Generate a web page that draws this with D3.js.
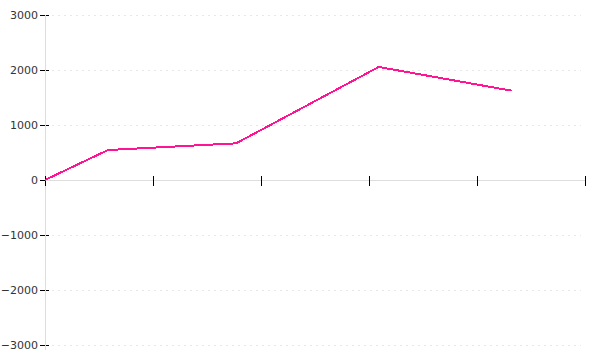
<!DOCTYPE html>
<html>
<head>
<meta charset="utf-8">
<script src="https://cdn.jsdelivr.net/npm/d3@7"></script>
<style>
    body { margin: 0; background: #fff; }
    svg text { font-family: "DejaVu Sans", sans-serif; font-size: 11px; fill: #333; }
</style>
</head>
<body>
<div id="chart"></div>
<script>
// Chart data
const xValues = [0, 0.583, 1.77, 3.09, 4.32];
const yValues = [0, 545, 667, 2055, 1624];
const xTicks = [0, 1, 2, 3, 4, 5];
const yTicks = [-3000, -2000, -1000, 0, 1000, 2000, 3000];

const width = 600;
const height = 360;
const margin = { top: 15, right: 15, bottom: 15, left: 45 };

const svg = d3.select('#chart')
    .append('svg')
    .attr('width', width)
    .attr('height', height);

const x = d3.scaleLinear()
    .domain([0, 5])
    .range([margin.left, width - margin.right]);

const y = d3.scaleLinear()
    .domain([-3000, 3000])
    .range([height - margin.bottom, margin.top]);

// Dashed grid lines (skip zero, the x axis sits there)
svg.append('g')
    .selectAll('line')
    .data(yTicks.filter(d => d !== 0))
    .join('line')
    .attr('x1', margin.left + 7)
    .attr('x2', width - margin.right - 4)
    .attr('y1', d => Math.round(y(d)) + 0.5)
    .attr('y2', d => Math.round(y(d)) + 0.5)
    .attr('stroke', '#e8e8e8')
    .attr('stroke-dasharray', '2,4')
    .attr('shape-rendering', 'crispEdges');

// Y axis labels
const yAxis = svg.append('g')
    .attr('transform', `translate(${margin.left},0)`)
    .call(d3.axisLeft(y).tickValues(yTicks).tickSize(0).tickPadding(7).tickFormat(d3.format('d')));
yAxis.select('.domain').remove();
yAxis.selectAll('.tick text').attr('fill', '#333');

// Y tick marks (black), crossing the grey axis line
svg.append('g')
    .selectAll('line')
    .data(yTicks)
    .join('line')
    .attr('x1', margin.left - 5)
    .attr('x2', margin.left + 4)
    .attr('y1', d => Math.round(y(d)) + 0.5)
    .attr('y2', d => Math.round(y(d)) + 0.5)
    .attr('stroke', '#000')
    .attr('shape-rendering', 'crispEdges');

svg.append('line')
    .attr('x1', margin.left + 0.5)
    .attr('x2', margin.left + 0.5)
    .attr('y1', margin.top)
    .attr('y2', height - 10)
    .attr('stroke', '#ddd')
    .attr('shape-rendering', 'crispEdges');

// X axis at zero: grey line, black ticks, no labels
svg.append('line')
    .attr('x1', margin.left)
    .attr('x2', width - margin.right)
    .attr('y1', y(0) + 0.5)
    .attr('y2', y(0) + 0.5)
    .attr('stroke', '#ddd')
    .attr('shape-rendering', 'crispEdges');

svg.append('g')
    .selectAll('line')
    .data(xTicks)
    .join('line')
    .attr('x1', d => Math.round(x(d)) + 0.5)
    .attr('x2', d => Math.round(x(d)) + 0.5)
    .attr('y1', y(0) - 4)
    .attr('y2', y(0) + 6)
    .attr('stroke', '#000')
    .attr('shape-rendering', 'crispEdges');

// Series line
const line = d3.line()
    .x((d, i) => x(xValues[i]))
    .y(d => y(d));

svg.append('path')
    .datum(yValues)
    .attr('d', line)
    .attr('fill', 'none')
    .attr('stroke', '#ff1493')
    .attr('stroke-width', 2)
    .attr('shape-rendering', 'crispEdges');
</script>
</body>
</html>
